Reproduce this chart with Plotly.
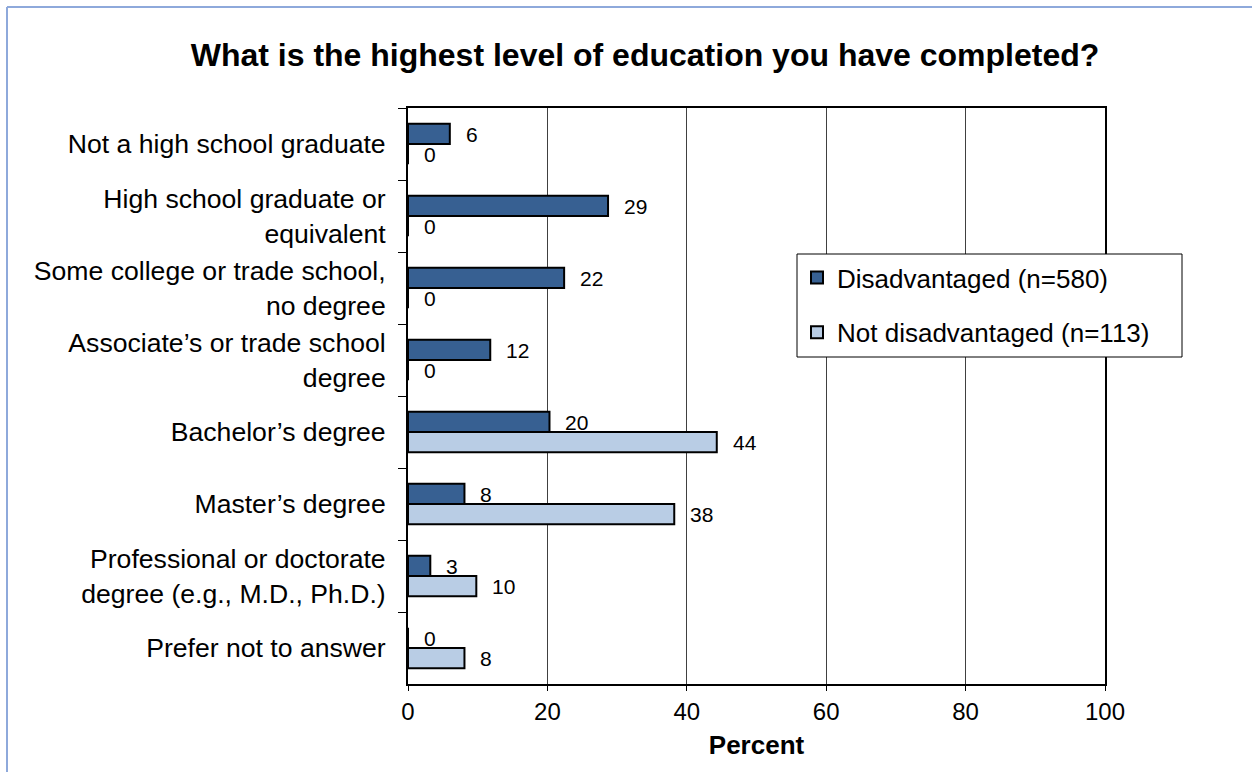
import plotly.graph_objects as go

categories = [
    "Not a high school graduate",
    "High school graduate or<br>equivalent",
    "Some college or trade school,<br>no degree",
    "Associate\u2019s or trade school<br>degree",
    "Bachelor\u2019s degree",
    "Master\u2019s degree",
    "Professional or doctorate<br>degree (e.g., M.D., Ph.D.)",
    "Prefer not to answer",
]
disadvantaged = [6.0, 28.7, 22.4, 11.8, 20.3, 8.1, 3.2, 0.0]
not_disadvantaged = [0.0, 0.0, 0.0, 0.0, 44.3, 38.2, 9.8, 8.1]
series_names = ["Disadvantaged (n=580)", "Not disadvantaged (n=113)"]
series_colors = ["#376092", "#B9CDE5"]
x_ticks = [0, 20, 40, 60, 80, 100]

W, H = 1252, 772
L, R, T, B = 408, 1105, 108, 684
FONT = "Liberation Sans, Arial, sans-serif"

fig = go.Figure()
for name, vals, col in zip(series_names, [disadvantaged, not_disadvantaged], series_colors):
    fig.add_trace(go.Bar(
        y=categories, x=vals, name=name, orientation="h",
        marker=dict(color=col, line=dict(color="black", width=2)),
        legendgroup=name,
    ))

annotations = []
for vals, shift in [(disadvantaged, 10), (not_disadvantaged, -10)]:
    for c, v in zip(categories, vals):
        annotations.append(dict(
            x=v, y=c, xref="x", yref="y", text=f"{v:.0f}", showarrow=False,
            xanchor="left", yanchor="middle", xshift=14, yshift=shift,
            font=dict(family=FONT, size=21, color="black"),
        ))

pw = R - L
ph = B - T
def px_x(p):
    return (p - L) / pw
def px_y(p):
    return (B - p) / ph

shapes = [
    dict(type="line", xref="paper", yref="paper", x0=px_x(7), x1=px_x(W), y0=px_y(7), y1=px_y(7),
         line=dict(color="#8EA9DB", width=2)),
    dict(type="line", xref="paper", yref="paper", x0=px_x(7), x1=px_x(7), y0=px_y(7), y1=px_y(H),
         line=dict(color="#8EA9DB", width=2)),
    # legend box
    dict(type="rect", xref="paper", yref="paper", layer="above",
         x0=px_x(797), x1=px_x(1182), y0=px_y(357), y1=px_y(254),
         fillcolor="white", line=dict(color="black", width=1)),
]

fig.update_layout(
    width=W, height=H,
    margin=dict(l=L, r=W - R, t=T, b=H - B, pad=0),
    paper_bgcolor="white", plot_bgcolor="white",
    font=dict(family=FONT, color="black"),
    barmode="group", bargap=0.44, bargroupgap=0,
    title=dict(text="<b>What is the highest level of education you have completed?</b>",
               x=px_x(645), xref="paper", xanchor="center",
               y=1 - 55 / H, yref="container", yanchor="middle",
               font=dict(size=32, family=FONT, color="black")),
    xaxis=dict(range=[0, 100], tickvals=x_ticks, showgrid=True, gridcolor="#404040", gridwidth=1,
               showline=True, linecolor="black", linewidth=2, mirror=True,
               ticks="outside", ticklen=5, tickcolor="black",
               tickfont=dict(size=24), zeroline=False,
               title=dict(text="<b>Percent</b>", font=dict(size=26), standoff=12)),
    yaxis=dict(autorange="reversed", showline=True, linecolor="black", linewidth=2, mirror=True,
               ticks="outside", ticklen=8, tickcolor="black", tickson="boundaries",
               tickfont=dict(size=26.6), showgrid=False, ticklabelstandoff=15),
    legend=dict(x=px_x(797), y=px_y(254), xanchor="left", yanchor="top",
                bgcolor="rgba(0,0,0,0)", borderwidth=0,
                font=dict(size=26), traceorder="grouped", tracegroupgap=18,
                itemwidth=30),
    annotations=annotations,
    shapes=shapes,
)

fig.write_html("out.html", config={"displayModeBar": False},
               post_script="document.body.style.margin='0';document.body.style.overflow='hidden';")
